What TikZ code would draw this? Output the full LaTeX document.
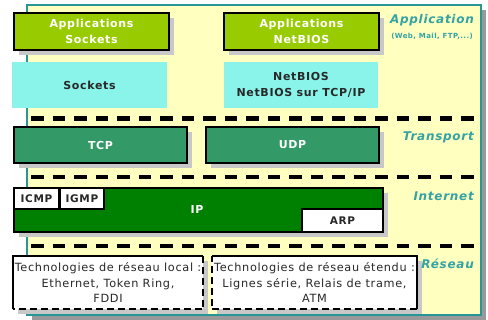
\documentclass[tikz,border=0pt]{standalone}
\usepackage{fontspec}
\setmainfont{DejaVu Sans}[LetterSpace=6]
\usetikzlibrary{shadows}
\definecolor{bgyellow}{RGB}{255,255,192}
\definecolor{tealc}{RGB}{51,163,163}
\definecolor{tealb}{RGB}{40,150,150}
\definecolor{appgreen}{RGB}{153,204,0}
\definecolor{cyanbox}{RGB}{138,244,234}
\definecolor{seagreen}{RGB}{51,153,102}
\definecolor{ipgreen}{RGB}{0,128,0}
\definecolor{darktxt}{RGB}{40,40,40}
\definecolor{shad}{RGB}{200,200,200}
\tikzset{
  shad/.style={drop shadow={shadow xshift=5pt, shadow yshift=-5pt, fill=shad, opacity=1}},
  basebox/.style={rectangle, inner sep=0pt, align=center, font=\fontsize{11}{16}\selectfont\bfseries},
  appbox/.style={basebox, shad, draw=black, line width=1.3pt, fill=appgreen, text=white},
  cyanb/.style={basebox, fill=cyanbox, text=darktxt},
  tranbox/.style={basebox, shad, draw=black, line width=1.3pt, fill=seagreen, text=white},
  ipbox/.style={basebox, shad, draw=black, line width=1.3pt, fill=ipgreen, text=white},
  smallbox/.style={basebox, draw=black, line width=1.3pt, fill=white, text=darktxt, font=\fontsize{10.5}{12}\selectfont\bfseries},
  techbox/.style={rectangle, inner sep=0pt, align=center, shad, fill=white, text=darktxt, font=\fontsize{11.3}{15.5}\selectfont},
  solidside/.style={line width=2pt, black},
  dashside/.style={line width=2pt, black, dash pattern=on 7pt off 4pt},
  sepline/.style={line width=4.5pt, black, dash pattern=on 12.5pt off 9pt},
  layerlab/.style={anchor=east, inner sep=0pt, text=tealc, font=\fontsize{12}{14}\selectfont\bfseries\itshape},
}
\begin{document}
\begin{tikzpicture}[x=1pt,y=-1pt]
\useasboundingbox (0,0) rectangle (488,320);
% background
\node[rectangle, draw=tealb, line width=2pt, fill=bgyellow, minimum width=454pt, minimum height=310pt,
  drop shadow={shadow xshift=5pt, shadow yshift=-5pt, fill=gray!80, opacity=1}] (bg) at (254,160) {};
% application layer
\node[appbox, minimum width=155pt, minimum height=37pt] (appsock) at (91.5,31.5) {Applications\\Sockets};
\node[appbox, minimum width=155pt, minimum height=37pt] (appnb) at (301.5,31.5) {Applications\\NetBIOS};
\node[cyanb, minimum width=155pt, minimum height=46pt] (sock) at (89.5,85) {Sockets};
\node[cyanb, minimum width=154pt, minimum height=46pt] (nb) at (301,85) {NetBIOS\\NetBIOS sur TCP/IP};
\node[layerlab] (lapp) at (474,20) {Application};
\node[anchor=east, inner sep=0pt, text=tealc, font=\fontsize{7}{8}\selectfont\bfseries] (lappsub) at (473,36) {(Web, Mail, FTP,...)};
% separator 1
\coordinate (s1l) at (31,118.5);
\coordinate (s1r) at (474,118.5);
\draw[sepline] (s1l) -- (s1r);
% transport
\node[tranbox, minimum width=173pt, minimum height=36pt] (tcp) at (100.5,145) {TCP};
\node[tranbox, minimum width=173pt, minimum height=36pt] (udp) at (292.5,145) {UDP};
\node[layerlab] (ltr) at (474,137) {Transport};
% separator 2
\coordinate (s2l) at (31,177);
\coordinate (s2r) at (474,177);
\draw[sepline] (s2l) -- (s2r);
% internet
\node[ipbox, minimum width=369pt, minimum height=44pt] (ip) at (198.5,210) {};
\node[inner sep=0pt, text=white, font=\fontsize{11}{12}\selectfont\bfseries] (iptxt) at (197,209) {IP};
\node[smallbox, minimum width=45pt, minimum height=21pt] (icmp) at (36.5,198.5) {ICMP};
\node[smallbox, minimum width=44pt, minimum height=21pt] (igmp) at (82,198.5) {IGMP};
\node[smallbox, minimum width=81pt, minimum height=23pt] (arp) at (342.5,220.5) {ARP};
\node[layerlab] (lint) at (474,196) {Internet};
% separator 3
\coordinate (s3l) at (31,246);
\coordinate (s3r) at (474,246);
\draw[sepline] (s3l) -- (s3r);
% network
\node[techbox, minimum width=190pt, minimum height=53pt] (lan) at (108,282.5)
  {Technologies de réseau local :\\Ethernet, Token Ring,\\FDDI};
\draw[solidside] (lan.south west) -- (lan.north west) -- (lan.north east);
\draw[dashside] (lan.north east) -- (lan.south east) -- (lan.south west);
\node[techbox, minimum width=205pt, minimum height=53pt] (wan) at (314.5,282.5)
  {Technologies de réseau étendu :\\Lignes série, Relais de trame,\\ATM};
\draw[solidside] (wan.north west) -- (wan.north east) -- (wan.south east);
\draw[dashside] (wan.south east) -- (wan.south west) -- (wan.north west);
\node[layerlab] (lres) at (474,264) {Réseau};
\end{tikzpicture}
\end{document}
